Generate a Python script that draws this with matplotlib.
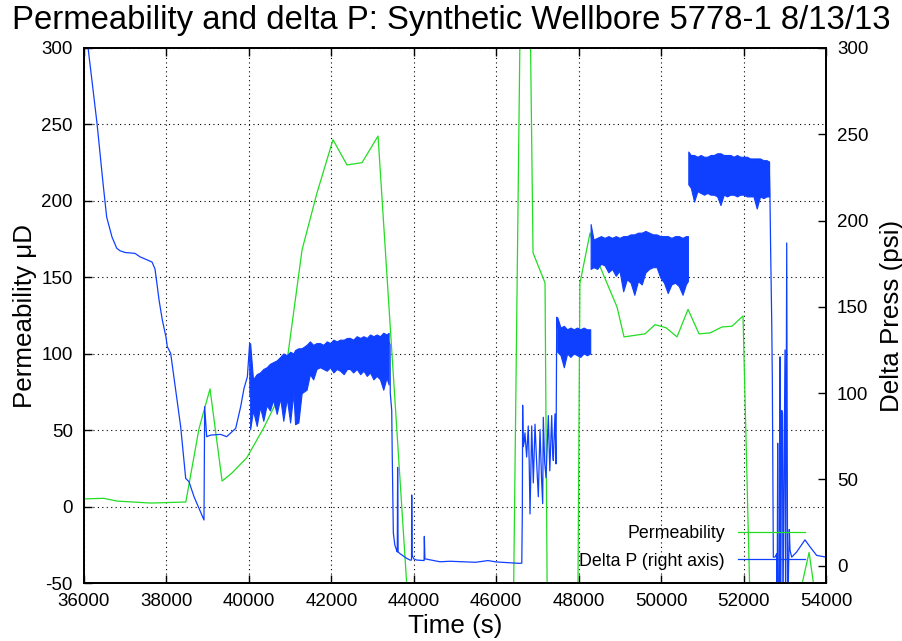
import matplotlib
matplotlib.use('Agg')
import matplotlib.pyplot as plt

plt.rcParams['font.family'] = ['Liberation Sans', 'DejaVu Sans']
plt.rcParams['axes.unicode_minus'] = False

#--permeability (left axis)
perm_t = [36000, 36480, 36800, 37620, 38000, 38470, 38790, 39057, 39350, 39590,
          39950, 40370, 40660, 40950, 41290, 41650, 42040, 42380, 42745, 43133,
          44000, 46390, 46700, 46893, 47184, 47260, 47960, 48030, 48276, 48518,
          48930, 49100, 49610, 49852, 50119, 50386, 50653, 50920, 51187, 51478,
          51720, 51987, 52150, 53300, 53590, 53800]
perm = [5.0, 5.4, 3.6, 2.3, 2.6, 3.0, 51, 77, 16.7, 22,
        32, 52, 68, 100, 168, 205, 240, 223.5, 225, 242.4,
        -123, -130, 600, 166, 146.3, -150, -150, 146, 179, 157,
        130.6, 111, 113, 119, 117, 111, 129, 113, 113.6, 117.5,
        118, 124.7, -55, -65, -30, -70]

#--delta P (right axis), smooth parts
dp1_t = [36000, 36315, 36461, 36550, 36679, 36793, 36873, 37000, 37237, 37359,
         37650, 37722, 37779, 37820, 37900, 37989, 38020, 38103, 38345, 38467,
         38547, 38669, 38911, 38927, 38976, 39073, 39316, 39461, 39680, 39801,
         39882, 39963, 40019, 40025]
dp1 = [320, 256.5, 221.8, 202, 190.5, 184, 182.5, 181.5, 181, 179,
       176, 172, 161.7, 154, 142.4, 132.5, 127, 123, 80.6, 50.6,
       48.7, 40, 26.5, 92.2, 74.8, 75.7, 76.1, 74.8, 79.6, 92.2,
       102.8, 109.5, 128.9, 98]

dp2_t = [43390, 43424, 43430, 43465, 43477, 43504, 43540, 43583, 43600, 43608,
         43620, 43666, 43827, 43908, 43945, 43950, 43960, 44000, 44070, 44250,
         44256, 44270, 44636, 44880, 45500, 45800, 46000, 46550, 46620, 46633,
         46641, 46656, 46680, 46697, 46738, 46777, 46800, 46820, 46861, 46900,
         46941, 46980, 47021, 47062, 47100, 47127, 47142, 47175, 47208, 47264,
         47300, 47346, 47370, 47385, 47426, 47450, 47468, 47480]
dp2 = [130, 128, 100, 90, 65, 19, 12, 9, 8, 57,
       8, 7, 4.3, 3.3, 3.3, 41, 6, 4, 3.3, 3,
       17, 4, 2.3, 2.6, 2.0, 3.0, 2.2, 1.4, 1.5, 30,
       93, 69, 72, 77, 63, 81, 60, 30, 81, 48,
       82, 60, 40, 79, 50, 36, 86, 60, 51, 87,
       55, 87, 65, 61, 88, 59, 144, 138]

dp3_t = [52620, 52640, 52657, 52683, 52698, 52722, 52763, 52804, 52815, 52828,
         52845, 52870, 52885, 52900, 52925, 52945, 52955, 53006, 53020, 53047,
         53070, 53110, 53127, 53168, 53289, 53490, 53611, 53773, 54000]
dp3 = [234, 215, 183, 142, 108, 5, 5, 7, -30, 71,
       -30, -30, 121, -30, 90, 88, -30, 125, -30, 187,
       -30, 21, 9, 5, 8, 15, 11, 6, 5]

#--delta P noisy stretches: upper / lower envelope
bandA_t = [40030, 40100, 40190, 40270, 40350, 40430, 40510, 40590, 40675, 40760,
           40835, 40920, 41000, 41080, 41120, 41200, 41280, 41400, 41480, 41560,
           41640, 41725, 41805, 41890, 41970, 42050, 42130, 42210, 42300, 42380,
           42450, 42530, 42615, 42700, 42780, 42860, 42940, 43020, 43100, 43180,
           43260, 43340, 43390]
bandA_hi = [129, 108, 111, 112, 114, 115, 117, 118, 119, 121,
            123, 122, 124, 123, 125, 126, 126, 128, 130, 128,
            129, 129, 128, 130, 129, 131, 130, 131, 131, 132,
            132, 131, 133, 132, 133, 132, 134, 133, 134, 133,
            135, 134, 135]
bandA_lo = [79, 90, 81, 92, 84, 93, 90, 96, 88, 97,
            84, 97, 83, 100, 82, 83, 100, 102, 111, 108,
            114, 115, 114, 113, 115, 112, 114, 113, 111, 114,
            114, 112, 114, 111, 113, 110, 112, 108, 110, 108,
            102, 109, 105]

bandB_t = [47480, 47560, 47640, 47720, 47800, 47880, 47960, 48040, 48120, 48200, 48280]
bandB_hi = [144, 138, 139, 137, 138, 137, 138, 137, 138, 137, 137]
bandB_lo = [124, 122, 115, 123, 121, 123, 122, 121, 123, 122, 123]

bandC_t = [48290, 48360, 48450, 48540, 48630, 48720, 48810, 48900, 48990, 49080,
           49170, 49260, 49350, 49440, 49530, 49620, 49710, 49800, 49890, 49980,
           50070, 50160, 50250, 50340, 50430, 50520, 50600, 50650]
bandC_hi = [198, 189, 190, 191, 190, 191, 190, 191, 190, 191,
            191, 192, 192, 193, 193, 194, 193, 192, 192, 191,
            191, 191, 190, 191, 191, 190, 191, 191]
bandC_lo = [172, 173, 172, 175, 174, 170, 172, 168, 171, 159,
            166, 164, 157, 165, 163, 170, 172, 173, 173, 167,
            164, 158, 163, 164, 162, 157, 163, 165]

bandD_t = [50660, 50720, 50800, 50880, 50960, 51040, 51120, 51200, 51280, 51360,
           51440, 51520, 51600, 51680, 51760, 51840, 51920, 52000, 52080, 52160,
           52240, 52320, 52400, 52480, 52560, 52620]
bandD_hi = [240, 238, 238, 237, 238, 237, 237, 238, 238, 239,
            239, 238, 238, 238, 237, 238, 237, 237, 237, 236,
            236, 236, 236, 235, 235, 234]
bandD_lo = [221, 219, 211, 217, 216, 215, 216, 215, 215, 214,
            209, 215, 214, 215, 215, 214, 215, 215, 214, 214,
            214, 207, 214, 213, 214, 214]


def plot():
    green = '#22dd22'
    blue = '#1040ff'

    fig = plt.figure(figsize=(9.03, 6.41), dpi=100)
    ax = fig.add_axes([84/903., 1-583/641., 742/903., 535/641.])
    ax2 = ax.twinx()

    l1, = ax.plot(perm_t, perm, color=green, lw=0.9, label='Permeability')

    l2, = ax2.plot(dp1_t, dp1, color=blue, lw=0.9, label='Delta P (right axis)')
    for tt, vv in [(dp2_t, dp2), (dp3_t, dp3)]:
        ax2.plot(tt, vv, color=blue, lw=0.9)
    for tt, hi, lo in [(bandA_t, bandA_hi, bandA_lo), (bandB_t, bandB_hi, bandB_lo),
                       (bandC_t, bandC_hi, bandC_lo), (bandD_t, bandD_hi, bandD_lo)]:
        ax2.fill_between(tt, lo, hi, color=blue, lw=0.8)

    ax.set_xlim(36000, 54000)
    ax.set_ylim(-50, 300)
    ax2.set_ylim(-10, 300)
    ax.set_xticks(range(36000, 54001, 2000))
    ax.set_yticks(range(-50, 301, 50))
    ax2.set_yticks(range(0, 301, 50))

    ax.grid(True, color='black', ls=(0, (1, 3)), lw=0.8)
    ax.tick_params(axis='both', which='both', direction='in', length=6, width=1,
                   labelsize=13.5, top=True, right=False)
    ax.tick_params(axis='x', pad=7)
    ax.tick_params(axis='y', pad=8)
    ax2.tick_params(axis='y', direction='in', length=6, width=1, labelsize=13.5, pad=8)
    for a in [ax, ax2]:
        for s in a.spines.values():
            s.set_linewidth(1.3)

    ax.set_xlabel('Time (s)', size=18.7, labelpad=3)
    ax.set_ylabel('Permeability μD', size=18.7, labelpad=3)
    ax2.set_ylabel('Delta Press (psi)', size=18.7, labelpad=8)
    fig.text(0.5, 1-20/641., 'Permeability and delta P: Synthetic Wellbore 5778-1 8/13/13',
             ha='center', va='center', size=23.7)

    ax2.legend(handles=[l1, l2], loc='lower right', frameon=False, markerfirst=False,
               fontsize=12.8, handlelength=3.8, handletextpad=0.72, labelspacing=0.6,
               borderpad=0, borderaxespad=0, bbox_to_anchor=(0.972, 0.025))

    filename = 'out.png'
    fig.savefig(filename, dpi=100)
    print('Saving figure to %s' % filename)


if __name__ == "__main__":
    plot()
